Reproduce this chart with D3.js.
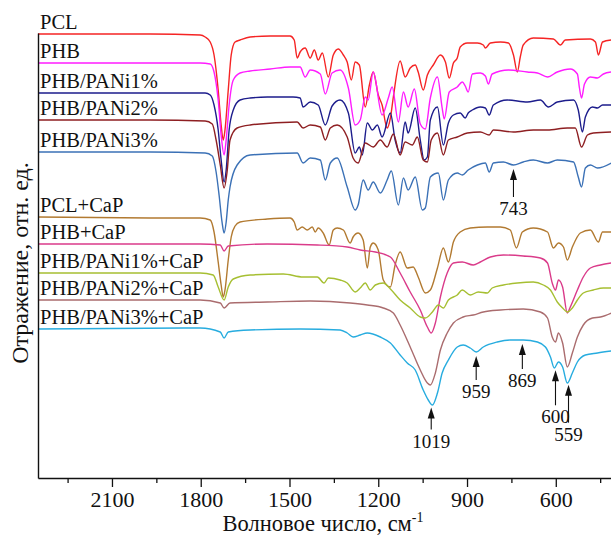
<!DOCTYPE html>
<html>
<head>
<meta charset="utf-8">
<script src="https://cdn.jsdelivr.net/npm/d3@7"></script>
<style>
  body { margin: 0; background: #fff; }
  svg { display: block; }
  text { font-family: "Liberation Serif", "Times New Roman", serif; fill: #111; }
</style>
</head>
<body>
<svg id="chart" width="611" height="535"></svg>
<script>
// wavenumber (cm-1) vs reflectance, arbitrary offset units
var wavenumberRange = [2350, 410];
var reflectanceRange = [0, 445];

var pcl = [[2350,444],[1971,444],[1802,443],[1785,441],[1768,436],[1755,423],[1741,388],[1731,353],[1724,338],[1718,348],[1707,388],[1697,423],[1684,436],[1667,438],[1633,441],[1565,442],[1498,442],[1484,438],[1474,420],[1464,426],[1447,430],[1430,420],[1416,428],[1403,418],[1389,425],[1369,401],[1352,423],[1335,429],[1318,423],[1305,416],[1291,398],[1278,416],[1264,413],[1244,371],[1230,393],[1217,406],[1200,383],[1187,373],[1170,350],[1159,360],[1149,381],[1126,417],[1109,401],[1092,410],[1075,413],[1065,406],[1048,388],[1034,403],[1014,413],[990,423],[973,416],[960,400],[946,415],[933,420],[923,431],[899,435],[865,435],[845,433],[838,430],[821,435],[787,436],[760,435],[743,423],[730,406],[720,421],[710,433],[676,440],[608,439],[584,433],[568,438],[483,439],[466,436],[456,423],[442,436],[412,438]];

var phb = [[2350,415],[1971,415],[1802,415],[1768,414],[1755,406],[1741,378],[1731,343],[1721,323],[1714,338],[1704,373],[1690,398],[1667,405],[1633,407],[1565,409],[1498,411],[1464,411],[1447,401],[1430,408],[1396,404],[1379,384],[1356,405],[1329,408],[1301,390],[1278,353],[1261,358],[1244,381],[1234,378],[1217,406],[1187,363],[1166,380],[1153,391],[1132,356],[1115,386],[1099,371],[1078,389],[1058,354],[1041,349],[1024,380],[1000,401],[984,370],[977,359],[960,386],[933,391],[916,396],[906,392],[896,386],[882,404],[855,405],[838,402],[828,394],[815,404],[760,408],[696,406],[662,405],[628,401],[595,406],[551,409],[527,404],[520,390],[513,380],[503,394],[483,401],[459,400],[439,404],[412,406]];

var phbPani1 = [[2350,385],[1971,385],[1785,385],[1768,383],[1755,373],[1741,348],[1731,318],[1721,296],[1714,308],[1704,348],[1690,368],[1667,378],[1633,380],[1575,381],[1488,381],[1464,380],[1454,371],[1430,376],[1403,373],[1379,353],[1356,372],[1329,378],[1301,365],[1278,325],[1264,331],[1254,323],[1237,355],[1220,348],[1203,353],[1187,341],[1159,365],[1143,338],[1126,325],[1109,356],[1099,345],[1075,370],[1058,338],[1045,318],[1034,321],[1024,358],[1000,371],[980,333],[963,355],[946,363],[923,365],[906,360],[896,365],[882,368],[855,371],[838,370],[825,363],[811,373],[764,378],[696,376],[652,378],[625,371],[595,376],[540,378],[524,368],[510,346],[500,361],[476,371],[459,370],[442,373],[412,373]];

var phbPani2 = [[2350,358],[1971,358],[1785,357],[1761,354],[1748,338],[1734,313],[1721,290],[1711,306],[1701,338],[1677,350],[1633,353],[1474,356],[1454,350],[1430,353],[1396,351],[1379,338],[1362,350],[1339,353],[1305,341],[1285,320],[1268,315],[1244,335],[1217,331],[1193,338],[1170,331],[1149,344],[1126,323],[1109,336],[1085,333],[1068,341],[1048,318],[1034,316],[1021,338],[1000,345],[980,323],[963,338],[933,341],[899,345],[855,346],[825,343],[811,348],[743,346],[676,348],[628,348],[561,350],[534,350],[513,331],[493,343],[473,345],[412,346]];

var phbPani3 = [[2350,326],[1971,326],[1785,325],[1761,322],[1748,306],[1738,283],[1728,256],[1721,245],[1714,256],[1707,278],[1701,291],[1677,313],[1633,323],[1474,325],[1454,315],[1430,320],[1396,318],[1379,298],[1362,315],[1339,320],[1305,291],[1278,268],[1268,273],[1251,298],[1234,288],[1217,296],[1193,285],[1170,298],[1156,307],[1132,273],[1115,300],[1099,288],[1075,301],[1051,268],[1041,270],[1024,301],[997,305],[980,278],[963,298],[933,305],[916,303],[896,308],[865,313],[838,315],[825,306],[811,315],[777,316],[743,313],[710,316],[676,318],[628,315],[595,318],[540,316],[524,301],[513,291],[500,310],[483,313],[459,310],[412,315]];

var pclCaP = [[2350,261],[1971,260],[1802,260],[1768,258],[1755,246],[1741,216],[1731,193],[1724,181],[1718,188],[1707,218],[1697,241],[1684,252],[1667,256],[1575,259],[1498,260],[1484,256],[1474,248],[1457,251],[1440,248],[1423,251],[1413,246],[1403,250],[1386,245],[1366,233],[1352,248],[1339,250],[1318,248],[1295,235],[1285,241],[1268,245],[1251,238],[1237,210],[1227,231],[1217,235],[1200,228],[1183,198],[1159,191],[1143,213],[1126,226],[1102,210],[1082,211],[1065,201],[1041,185],[1024,188],[1000,210],[980,230],[963,216],[946,236],[923,246],[889,250],[831,251],[787,251],[754,248],[733,230],[713,246],[676,250],[628,246],[608,230],[591,235],[574,231],[561,218],[544,231],[517,245],[483,248],[456,236],[442,246],[412,246]];

var phbCaP = [[2350,234],[1802,234],[1734,233],[1721,227],[1707,232],[1575,234],[1406,233],[1305,231],[1261,228],[1210,226],[1159,221],[1126,205],[1092,186],[1058,168],[1034,151],[1021,145],[1007,155],[990,181],[967,205],[946,215],[916,216],[879,213],[855,216],[821,221],[777,223],[710,222],[652,220],[628,215],[612,195],[601,188],[591,198],[577,191],[561,165],[551,171],[527,188],[507,201],[483,210],[449,213],[412,215]];

var phbPani1CaP = [[2350,205],[1802,205],[1758,203],[1741,191],[1721,178],[1707,191],[1690,199],[1633,203],[1521,204],[1454,201],[1406,201],[1383,195],[1369,200],[1329,198],[1305,195],[1278,186],[1261,190],[1244,195],[1227,188],[1210,193],[1183,195],[1159,189],[1126,178],[1092,170],[1058,161],[1041,160],[1017,166],[997,173],[980,170],[963,178],[933,183],[916,188],[889,183],[862,186],[831,185],[815,190],[777,193],[730,195],[676,196],[642,193],[618,188],[595,176],[577,170],[561,166],[544,170],[527,178],[507,185],[473,188],[439,190],[412,190]];

var phbPani2CaP = [[2350,178],[1802,178],[1734,175],[1721,170],[1701,175],[1575,176],[1430,177],[1295,175],[1237,173],[1183,170],[1149,165],[1126,153],[1092,131],[1058,108],[1034,95],[1024,93],[1007,105],[990,128],[967,145],[946,155],[913,161],[879,163],[845,166],[787,168],[710,169],[652,166],[628,160],[612,141],[601,136],[591,145],[577,135],[561,111],[544,125],[527,141],[507,153],[476,160],[449,161],[412,165]];

var phbPani3CaP = [[2350,149],[1802,150],[1734,146],[1721,140],[1707,146],[1633,148],[1464,149],[1329,148],[1305,145],[1285,141],[1261,143],[1237,145],[1193,141],[1159,135],[1126,123],[1102,115],[1075,108],[1048,88],[1031,78],[1017,73],[1000,85],[984,105],[963,118],[933,131],[913,133],[889,130],[869,126],[845,131],[798,136],[754,138],[710,138],[662,136],[635,131],[618,121],[605,110],[591,116],[577,111],[561,95],[544,105],[527,116],[500,123],[459,125],[412,127]];

var seriesNames = ['PCL', 'PHB', 'PHB/PANi1%', 'PHB/PANi2%', 'PHB/PANi3%',
  'PCL+CaP', 'PHB+CaP', 'PHB/PANi1%+CaP', 'PHB/PANi2%+CaP', 'PHB/PANi3%+CaP'];
var seriesData = [pcl, phb, phbPani1, phbPani2, phbPani3,
  pclCaP, phbCaP, phbPani1CaP, phbPani2CaP, phbPani3CaP];

var majorTicks = [2100, 1800, 1500, 1200, 900, 600];
var minorTicks = [2250, 1950, 1650, 1350, 1050, 750, 450];

// peak marks: label text, where the arrow stands, which spectrum it points at
var peakLabels = ['743', '1019', '959', '869', '600', '559'];
var peakPositions = [743, 1021, 869, 713, 601, 557];
var peakTargets = ['PHB/PANi3%', 'PHB/PANi3%+CaP', 'PHB/PANi3%+CaP', 'PHB/PANi3%+CaP', 'PHB/PANi3%+CaP', 'PHB/PANi3%+CaP'];

(function () {
  'use strict';
  var colors = ['#f52424', '#ff1dff', '#1d1d8c', '#8e1f22', '#3b71b6',
    '#b27a31', '#da3b8a', '#a6bf32', '#aa6c6e', '#27acdf'];
  var arrowLen = [28, 22, 24, 25, 35, 38];

  var svg = d3.select('#chart');
  var x = d3.scaleLinear().domain(wavenumberRange).range([38, 612]);
  var y = d3.scaleLinear().domain(reflectanceRange).range([478, 33]);

  var line = d3.line()
    .x(function (d) { return x(d[0]); })
    .y(function (d) { return y(d[1]); })
    .curve(d3.curveMonotoneX);

  // spectra
  seriesData.forEach(function (data, i) {
    svg.append('path')
      .attr('d', line(data))
      .attr('fill', 'none')
      .attr('stroke', colors[i])
      .attr('stroke-width', 1.4)
      .attr('stroke-linejoin', 'round');
  });

  // names over the start of each curve
  seriesData.forEach(function (data, i) {
    svg.append('text')
      .attr('x', 40)
      .attr('y', y(data[0][1]) - 5)
      .attr('font-size', 20.5)
      .text(seriesNames[i]);
  });

  // axes
  var xAxis = svg.append('g')
    .attr('transform', 'translate(0,' + y(0) + ')')
    .call(d3.axisBottom(x).tickValues(majorTicks).tickSize(9).tickSizeOuter(0).tickFormat(d3.format('d')));
  xAxis.selectAll('text').attr('y', 29).attr('dy', null).attr('font-size', 22)
    .attr('font-family', '"Liberation Serif", serif').attr('fill', '#111');
  xAxis.select('.domain').attr('stroke', '#111').attr('stroke-width', 1.4);
  xAxis.selectAll('.tick line').attr('stroke', '#111').attr('stroke-width', 1.3);

  svg.append('g')
    .attr('transform', 'translate(0,' + y(0) + ')')
    .call(d3.axisBottom(x).tickValues(minorTicks).tickSize(5).tickSizeOuter(0).tickFormat(''))
    .call(function (g) {
      g.select('.domain').remove();
      g.selectAll('.tick line').attr('stroke', '#111').attr('stroke-width', 1.3);
    });

  svg.append('g')
    .attr('transform', 'translate(' + x(wavenumberRange[0]) + ',0)')
    .call(d3.axisLeft(y).tickValues([]).tickSizeOuter(0))
    .call(function (g) {
      g.select('.domain').attr('stroke', '#111').attr('stroke-width', 1.4);
    });

  // axis titles
  var xTitle = svg.append('text')
    .attr('x', 323)
    .attr('y', 531)
    .attr('text-anchor', 'middle')
    .attr('font-size', 22.5);
  xTitle.append('tspan').text('Волновое число, см');
  xTitle.append('tspan').attr('dy', -9).attr('font-size', 14).text('-1');

  svg.append('text')
    .attr('transform', 'translate(28,263) rotate(-90)')
    .attr('text-anchor', 'middle')
    .attr('font-size', 24)
    .text('Отражение, отн. ед.');

  // peak arrows
  function valueAt(data, wn) {
    for (var k = 0; k < data.length - 1; k++) {
      var a = data[k], b = data[k + 1];
      if (wn <= a[0] && wn >= b[0]) {
        var t = (a[0] - wn) / (a[0] - b[0]);
        return a[1] + t * (b[1] - a[1]);
      }
    }
    return data[data.length - 1][1];
  }

  peakLabels.forEach(function (label, i) {
    var data = seriesData[seriesNames.indexOf(peakTargets[i])];
    var px = x(peakPositions[i]);
    var tip = y(valueAt(data, peakPositions[i])) + 4;
    var end = tip + arrowLen[i];
    svg.append('path')
      .attr('d', 'M' + px + ',' + tip + 'L' + (px - 3.5) + ',' + (tip + 11) + 'L' + (px + 3.5) + ',' + (tip + 11) + 'Z')
      .attr('fill', '#111');
    svg.append('line')
      .attr('x1', px).attr('x2', px)
      .attr('y1', tip + 8).attr('y2', end)
      .attr('stroke', '#111')
      .attr('stroke-width', 1.1);
    svg.append('text')
      .attr('x', px)
      .attr('y', end + 18)
      .attr('text-anchor', 'middle')
      .attr('font-size', 19)
      .text(label);
  });
})();
</script>
</body>
</html>
